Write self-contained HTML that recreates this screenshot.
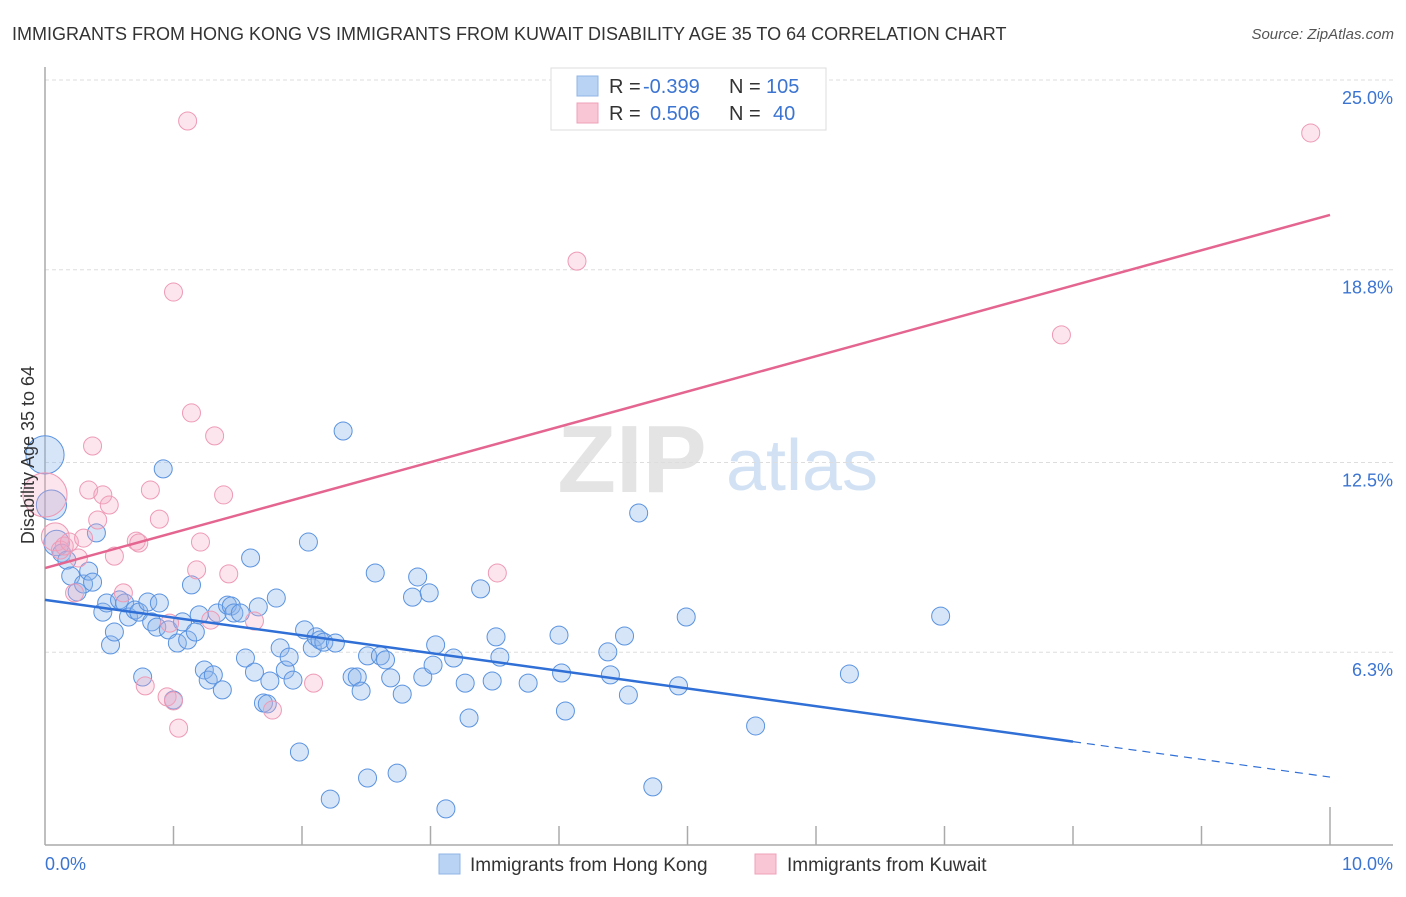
<!DOCTYPE html>
<html><head><meta charset="utf-8"><style>
body{margin:0;background:#fff;font-family:"Liberation Sans",sans-serif;}
svg text{font-family:"Liberation Sans",sans-serif;}
</style></head><body>
<svg id="chart" width="1406" height="892" viewBox="0 0 1406 892">
<text x="12" y="40" font-size="18" fill="#333">IMMIGRANTS FROM HONG KONG VS IMMIGRANTS FROM KUWAIT DISABILITY AGE 35 TO 64 CORRELATION CHART</text>
<text x="1394" y="39" font-size="15" fill="#555" font-style="italic" text-anchor="end">Source: ZipAtlas.com</text>
<g>
<text x="632" y="492" font-size="96" font-family="Liberation Serif" font-weight="bold" fill="#e4e4e4" text-anchor="middle">ZIP</text>
<text x="802" y="490" font-size="72" fill="#d2e2f4" text-anchor="middle">atlas</text>
</g>
<g id="grid"></g>
<g id="axes"></g>
<g id="pts"></g>
<g id="trends"></g>
<text transform="translate(34,455) rotate(-90)" font-size="18" fill="#333" text-anchor="middle">Disability Age 35 to 64</text>
<g>
<rect x="551" y="68" width="275" height="62" fill="#fff" stroke="#ddd"/>
<rect x="577" y="76" width="21" height="20" fill="#b8d3f4" stroke="#8fb4e6"/>
<rect x="577" y="103" width="21" height="20" fill="#f9c6d5" stroke="#eea2b8"/>
<text x="609" y="93" font-size="20" fill="#333">R = </text>
<text x="643" y="93" font-size="20" fill="#3b74d1">-0.399</text>
<text x="729" y="93" font-size="20" fill="#333">N = </text>
<text x="766" y="93" font-size="20" fill="#3b74d1">105</text>
<text x="609" y="120" font-size="20" fill="#333">R = </text>
<text x="650" y="120" font-size="20" fill="#3b74d1">0.506</text>
<text x="729" y="120" font-size="20" fill="#333">N = </text>
<text x="773" y="120" font-size="20" fill="#3b74d1">40</text>
</g>
<g>
<rect x="439" y="854" width="21" height="20" fill="#b8d3f4" stroke="#8fb4e6"/>
<text x="470" y="871" font-size="19" fill="#333">Immigrants from Hong Kong</text>
<rect x="755" y="854" width="21" height="20" fill="#f9c6d5" stroke="#eea2b8"/>
<text x="787" y="871" font-size="19" fill="#333">Immigrants from Kuwait</text>
</g>
</svg>
<script>
const yTicks=[25.0,18.8,12.5,6.3];
const yTickLabels=["25.0%","18.8%","12.5%","6.3%"];
const xTickValues=[0,1,2,3,4,5,6,7,8,9,10];
const xEndLabels=["0.0%","10.0%"];
const hkX=[0,0.05,0.09,0.13,0.17,0.20,0.25,0.30,0.34,0.37,0.40,0.45,0.48,0.51,0.54,0.58,0.62,0.65,0.70,0.73,0.76,0.80,0.83,0.87,0.89,0.92,0.96,1.00,1.03,1.07,1.11,1.14,1.17,1.20,1.24,1.27,1.31,1.34,1.38,1.42,1.45,1.47,1.52,1.56,1.60,1.63,1.66,1.70,1.73,1.75,1.80,1.83,1.87,1.90,1.93,1.98,2.02,2.05,2.08,2.11,2.14,2.17,2.22,2.26,2.32,2.39,2.43,2.46,2.51,2.51,2.57,2.61,2.65,2.69,2.74,2.78,2.86,2.90,2.94,2.99,3.02,3.04,3.12,3.18,3.27,3.30,3.39,3.48,3.51,3.54,3.76,4.00,4.02,4.05,4.38,4.40,4.51,4.54,4.62,4.73,4.93,4.99,5.53,6.26,6.97];
const hkY=[12.75,11.11,9.87,9.54,9.31,8.79,8.27,8.53,8.95,8.59,10.20,7.61,7.91,6.54,6.96,8.01,7.91,7.45,7.68,7.61,5.49,7.94,7.29,7.12,7.91,12.29,7.03,4.74,6.60,7.29,6.70,8.50,6.96,7.52,5.72,5.39,5.56,7.58,5.07,7.84,7.81,7.58,7.58,6.11,9.38,5.65,7.78,4.64,4.61,5.36,8.07,6.44,5.72,6.14,5.39,3.04,7.03,9.90,6.44,6.80,6.70,6.63,1.50,6.60,13.53,5.49,5.49,5.03,6.18,2.19,8.89,6.18,6.05,5.46,2.35,4.93,8.10,8.76,5.49,8.24,5.88,6.54,1.18,6.11,5.29,4.15,8.37,5.36,6.80,6.14,5.29,6.86,5.62,4.38,6.31,5.56,6.83,4.90,10.85,1.90,5.20,7.45,3.89,5.59,7.48];
const hkSize=[4.5,2.8,2];
const kwX=[1.11,1.00,4.14,9.85,7.91,0,0.08,0.12,0.15,0.19,0.23,0.26,0.30,0.34,0.37,0.41,0.45,0.50,0.54,0.61,0.71,0.73,0.78,0.82,0.89,0.95,0.97,1.00,1.04,1.14,1.18,1.21,1.29,1.32,1.39,1.43,1.63,1.77,2.09,3.52];
const kwY=[23.66,18.07,19.08,23.27,16.67,11.44,10.07,9.64,9.77,9.90,8.24,9.38,10.03,11.60,13.04,10.62,11.44,11.11,9.44,8.24,9.93,9.87,5.20,11.60,10.65,4.84,7.25,4.71,3.82,14.12,8.99,9.90,7.35,13.37,11.44,8.86,7.32,4.41,5.29,8.89];
const kwSize=[1,1,1,1,1,6,2.4];
const hkTrend=[8.01,-0.579];
const kwTrend=[9.05,1.154];
const hkSolidEnd=8;

const NS="http://www.w3.org/2000/svg";
const X0=45,X1=1330,YB=845,Y25=80;
function sx(v){return X0+(X1-X0)*v/10;}
function sy(v){return YB-(YB-Y25)*v/25;}
function mk(tag,attrs,parent){const e=document.createElementNS(NS,tag);for(const k in attrs)e.setAttribute(k,attrs[k]);document.getElementById(parent).appendChild(e);return e;}

yTicks.forEach((t,i)=>{
 const g=mk('line',{x1:45,x2:1393,y1:sy(t),y2:sy(t),stroke:'#ddd','stroke-dasharray':'4,3'},'grid');
 
 
 const l=mk('text',{x:1393,y:sy(t)+24,'font-size':18,fill:'#3b74d1','text-anchor':'end'},'grid');
 l.textContent=yTickLabels[i];
 
 
});
const ya=mk('line',{x1:45,x2:45,y1:67,y2:YB,stroke:'#aaa','stroke-width':1.5},'axes');


const xa=mk('line',{x1:45,x2:1393,y1:YB,y2:YB,stroke:'#aaa','stroke-width':1.5},'axes');


xTickValues.forEach(t=>{
 if(t===0)return;
 const tk=mk('line',{x1:sx(t),x2:sx(t),y1:t===10?807:826,y2:YB,stroke:'#aaa','stroke-width':1.5},'axes');
 
 
});
const xl0=mk('text',{x:45,y:870,'font-size':18,fill:'#3b74d1'},'axes');
xl0.textContent=xEndLabels[0];


const xl1=mk('text',{x:1393,y:870,'font-size':18,fill:'#3b74d1','text-anchor':'end'},'axes');
xl1.textContent=xEndLabels[1];



hkX.forEach((x,i)=>{
 const r=9*(hkSize[i]?Math.sqrt(hkSize[i]):1);
 const c=mk('circle',{cx:sx(x),cy:sy(hkY[i]),r:r,fill:'rgba(140,180,235,0.35)',stroke:'#5a93e0','stroke-width':1},'pts');
 
 
});
kwX.forEach((x,i)=>{
 const r=9*(kwSize[i]?Math.sqrt(kwSize[i]):1);
 const c=mk('circle',{cx:sx(x),cy:sy(kwY[i]),r:r,fill:'rgba(245,170,195,0.3)',stroke:'#ee9ab5','stroke-width':1},'pts');
 
 
});
function tv(tr,x){return tr[0]+tr[1]*x;}
const hl=mk('line',{x1:sx(0),y1:sy(tv(hkTrend,0)),x2:sx(hkSolidEnd),y2:sy(tv(hkTrend,hkSolidEnd)),stroke:'#2f6fd6','stroke-width':2.5},'trends');


const hd=mk('line',{x1:sx(hkSolidEnd),y1:sy(tv(hkTrend,hkSolidEnd)),x2:sx(10),y2:sy(tv(hkTrend,10)),stroke:'#2f6fd6','stroke-width':1.2,'stroke-dasharray':'8,6'},'trends');


const kl=mk('line',{x1:sx(0),y1:sy(tv(kwTrend,0)),x2:sx(10),y2:sy(tv(kwTrend,10)),stroke:'#e4658f','stroke-width':2.5},'trends');


</script>
</body></html>
